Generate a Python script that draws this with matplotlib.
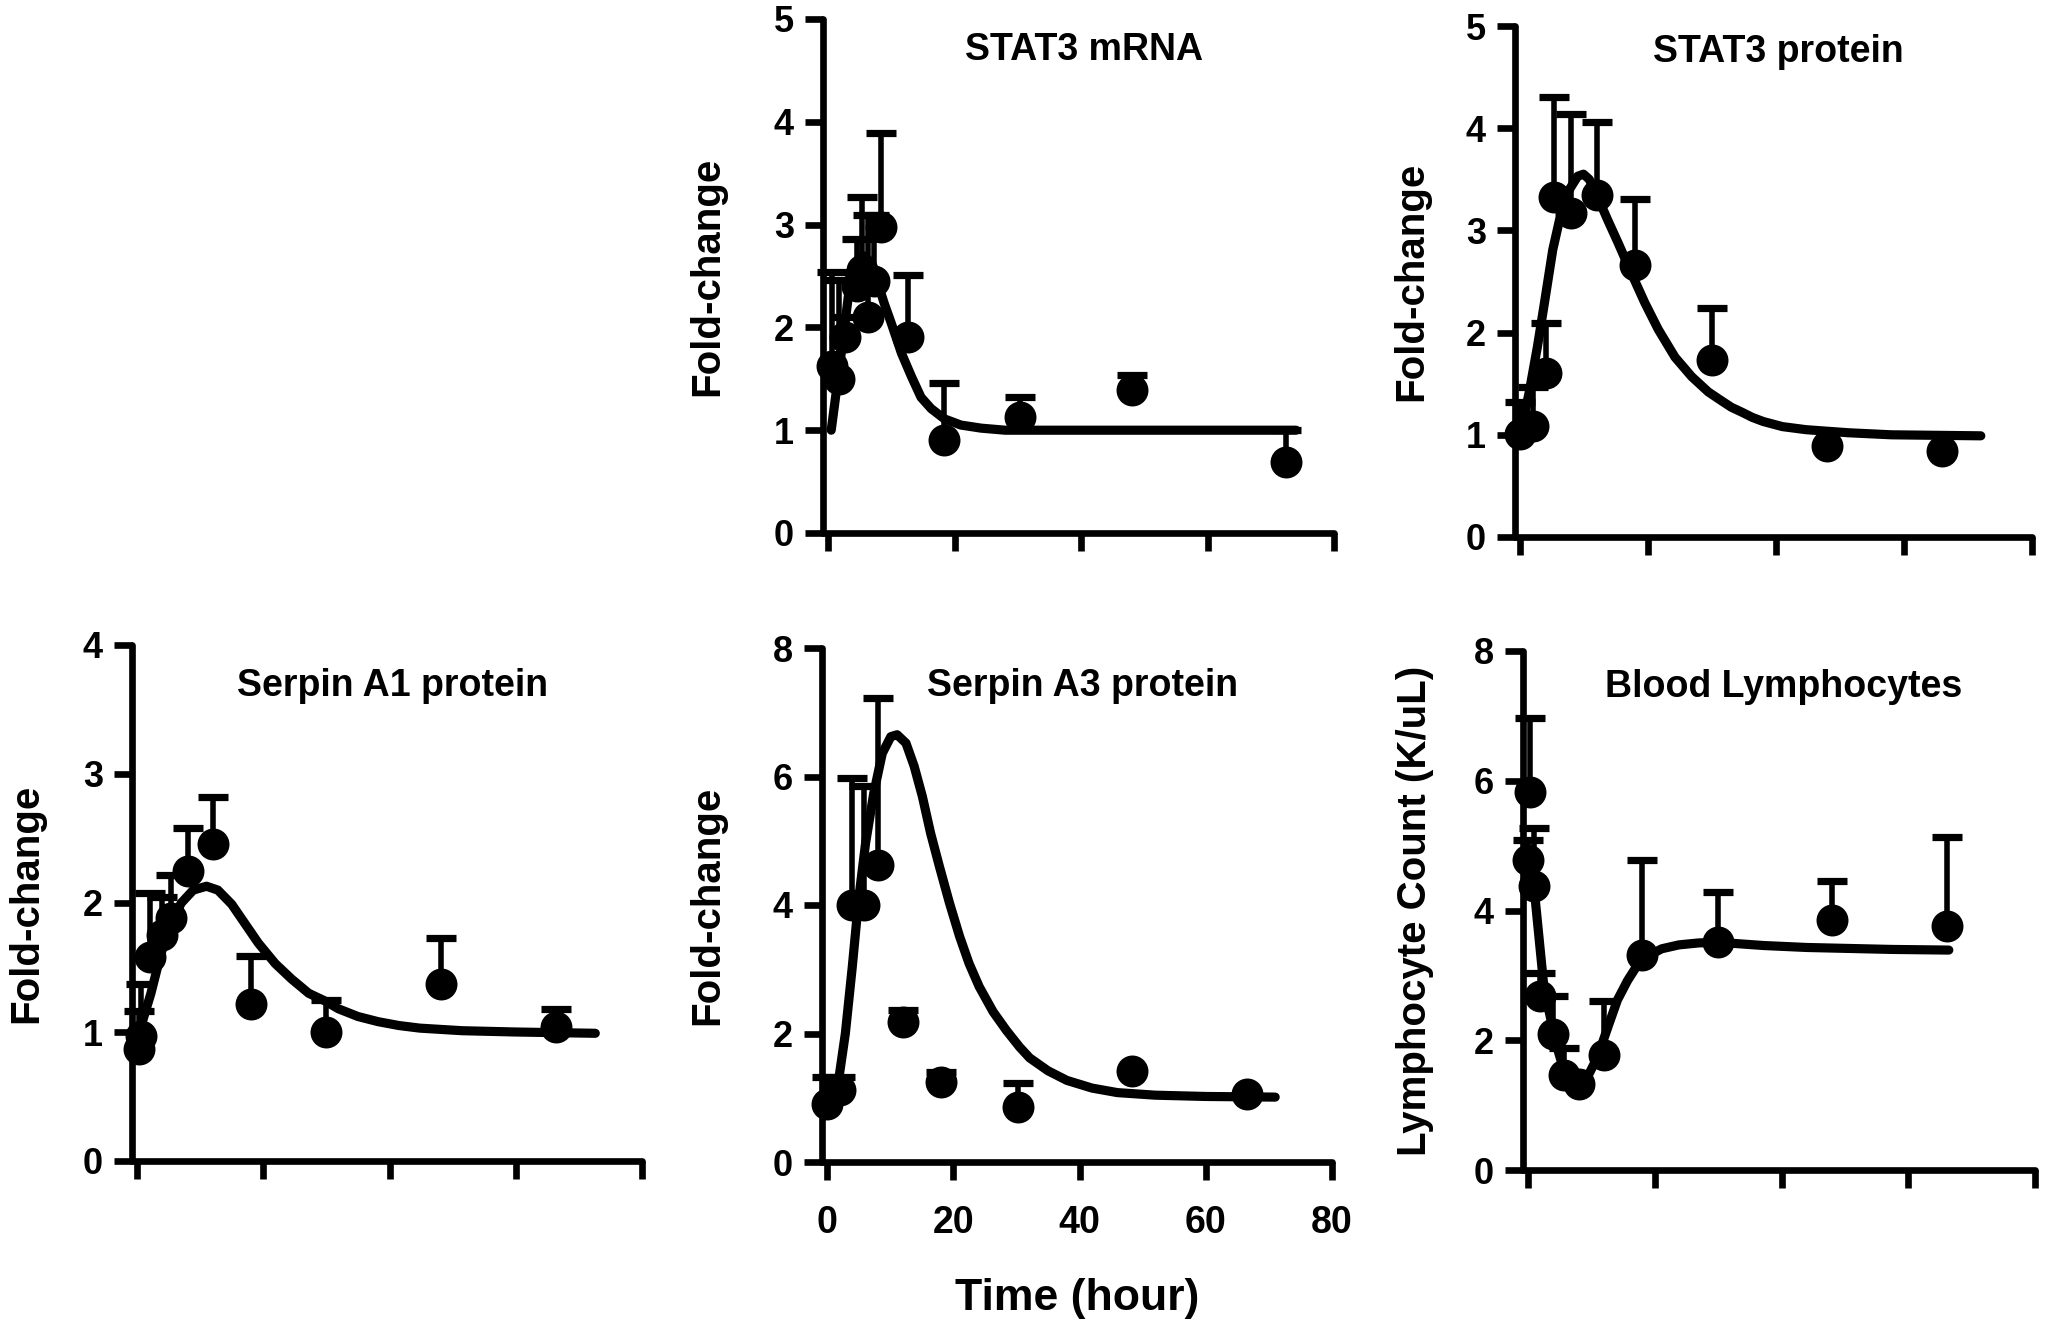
import matplotlib
matplotlib.use("Agg")
import matplotlib.pyplot as plt

plt.rcParams['font.family'] = ['Liberation Sans', 'DejaVu Sans']
plt.rcParams['font.weight'] = 'bold'

# ---------------- data ----------------
# STAT3 mRNA
mrna_t = [0.7, 1.8, 2.6, 4.5, 5.3, 6.3, 7.2, 8.4, 12.6, 18.4, 30.4, 48.0, 72.4]
mrna_mean = [1.62, 1.50, 1.91, 2.40, 2.56, 2.10, 2.45, 2.98, 1.91, 0.90, 1.13, 1.39, 0.69]
mrna_upper = [2.54, 2.46, 2.10, 2.86, 3.27, 3.09, 3.09, 3.89, 2.51, 1.46, 1.32, 1.54, 1.00]
mrna_fit_t = [0.5, 1.5, 2.5, 3.2, 4.5, 5.5, 6.5, 7.5, 8.9, 10.0, 11.6, 13.2, 14.7, 16.3,
              18.4, 21.0, 24.2, 28.0, 40.0, 60.0, 74.0]
mrna_fit_v = [1.0, 1.47, 1.95, 2.3, 2.6, 2.7, 2.65, 2.5, 2.23, 2.04, 1.75, 1.52, 1.32, 1.21,
              1.11, 1.05, 1.02, 1.0, 1.0, 1.0, 1.0]

# STAT3 protein
prot_t = [0, 2, 4, 5.3, 8, 12, 18, 30, 48, 66]
prot_mean = [1.01, 1.09, 1.60, 3.33, 3.17, 3.35, 2.66, 1.73, 0.89, 0.84]
prot_upper = [1.32, 1.47, 2.09, 4.31, 4.14, 4.06, 3.31, 2.24, 0.89, 0.84]
prot_fit_t = [0, 1.4, 2.7, 3.8, 5.1, 6.4, 7.7, 9.0, 9.9, 10.8, 12.1, 13.7, 15.3, 17.4, 19.5,
              21.6, 24.2, 26.8, 29.4, 31.3, 33.0, 34.7, 36.3, 38.0, 41.0, 44.7, 51.3, 58.0, 72.0]
prot_fit_v = [1.0, 1.41, 1.86, 2.29, 2.81, 3.17, 3.40, 3.53, 3.55, 3.50, 3.33, 3.10, 2.88, 2.58,
              2.29, 2.03, 1.76, 1.57, 1.42, 1.34, 1.27, 1.22, 1.17, 1.13, 1.08, 1.05, 1.02, 1.0, 0.99]

# Serpin A1 protein
a1_t = [0.3, 0.7, 2.0, 4.0, 5.4, 8.0, 12.0, 18.0, 30.0, 48.2, 66.3]
a1_mean = [0.87, 0.97, 1.58, 1.75, 1.88, 2.25, 2.46, 1.22, 1.00, 1.37, 1.04]
a1_upper = [1.16, 1.37, 2.08, 2.05, 2.22, 2.58, 2.82, 1.59, 1.25, 1.73, 1.18]
a1_fit_t = [0.3, 0.6, 2.2, 3.8, 5.4, 7.0, 8.9, 11.0, 12.8, 15.0, 17.1, 19.2, 21.9, 24.5,
            27.2, 29.8, 31.9, 35.0, 38.2, 41.5, 44.8, 51.5, 60.0, 72.6]
a1_fit_v = [0.99, 1.04, 1.30, 1.61, 1.84, 2.00, 2.10, 2.13, 2.10, 1.99, 1.84, 1.69, 1.53, 1.41,
            1.30, 1.24, 1.18, 1.12, 1.08, 1.05, 1.03, 1.01, 1.0, 0.99]

# Serpin A3 protein
a3_t = [0, 2.1, 4.0, 5.8, 8.1, 12.0, 18.0, 30.2, 48.3, 66.6]
a3_mean = [0.91, 1.12, 4.0, 4.0, 4.62, 2.18, 1.25, 0.86, 1.41, 1.06]
a3_upper = [1.32, 1.32, 5.97, 5.85, 7.22, 2.37, 1.40, 1.23, 1.41, 1.06]
a3_fit_t = [0, 1.0, 1.9, 2.9, 4.0, 5.0, 6.1, 7.4, 8.75, 10.1, 11.1, 12.5, 13.8, 15.1, 16.4,
            17.8, 19.4, 21.0, 22.5, 24.1, 26.3, 28.4, 30.5, 32.1, 35.0, 38.0, 42.0, 46.0,
            52.0, 60.0, 71.0]
a3_fit_v = [0.95, 1.05, 1.32, 2.0, 3.04, 4.08, 4.96, 5.74, 6.36, 6.62, 6.65, 6.52, 6.16, 5.69,
            5.12, 4.60, 4.03, 3.51, 3.09, 2.73, 2.34, 2.05, 1.79, 1.62, 1.42, 1.27, 1.15, 1.08,
            1.04, 1.02, 1.01]

# Blood lymphocytes
ly_t = [0, 0.3, 1.0, 1.9, 3.9, 5.6, 8.0, 12.0, 18.0, 30.0, 48.0, 66.1]
ly_mean = [4.78, 5.83, 4.37, 2.68, 2.09, 1.46, 1.33, 1.78, 3.31, 3.51, 3.85, 3.76]
ly_upper = [5.09, 6.96, 5.27, 3.03, 2.68, 1.88, 1.33, 2.61, 4.78, 4.28, 4.46, 5.14]
ly_fit_t = [0, 0.5, 1.0, 2.6, 3.4, 4.4, 5.5, 6.5, 8.1, 9.4, 10.7, 11.7, 12.8, 14.1, 15.7,
            17.2, 19.1, 21.1, 23.8, 26.9, 30.0, 37.2, 44.0, 57.4, 66.4]
ly_fit_v = [4.9, 4.7, 4.3, 2.72, 2.41, 1.95, 1.59, 1.38, 1.36, 1.44, 1.69, 1.95, 2.26, 2.62,
            2.92, 3.15, 3.31, 3.41, 3.47, 3.50, 3.51, 3.46, 3.43, 3.40, 3.39]

x_ticks = [0, 20, 40, 60, 80]
x_ticklabels = ['0', '20', '40', '60', '80']

# ---------------- figure ----------------
fig = plt.figure(figsize=(10.245, 6.64), dpi=200)
W, H = 2049, 1328


def make_ax(left, right, top, bottom):
    return fig.add_axes([left / W, (H - bottom) / H, (right - left) / W, (bottom - top) / H])


def panel(ax, t, mean, upper, ft, fv, ymax, ystep, title, ylabel, title_y, ylab_x,
          show_xlabels=False):
    lower = [0.0] * len(mean)
    up = [u - m for u, m in zip(upper, mean)]
    ax.plot(ft, fv, color='black', lw=3.3, solid_capstyle='round', solid_joinstyle='round',
            zorder=3, clip_on=False)
    ax.errorbar(t, mean, yerr=[lower, up], fmt='o', color='black', ms=10.5,
                elinewidth=2.0, capsize=5.5, capthick=2.6, zorder=4, clip_on=False)
    ax.set_xlim(-0.8, 80)
    ax.set_ylim(0, ymax)
    ax.set_yticks(list(range(0, ymax + 1, ystep)))
    ax.set_xticks(x_ticks)
    if show_xlabels:
        ax.set_xticklabels(x_ticklabels)
    else:
        ax.tick_params(axis='x', labelbottom=False)
    for s in ['top', 'right']:
        ax.spines[s].set_visible(False)
    for s in ['left', 'bottom']:
        ax.spines[s].set_linewidth(2.4)
        ax.spines[s].set_capstyle('round')
    ax.tick_params(axis='both', direction='out', width=2.4, length=6.5)
    ax.tick_params(axis='y', labelsize=13, pad=4)
    ax.tick_params(axis='x', labelsize=13.5, pad=9)
    for lab in ax.get_xticklabels() + ax.get_yticklabels():
        lab.set_fontweight('bold')
    ax.text(0.51, title_y, title, transform=ax.transAxes, ha='center', va='center',
            fontsize=13.5, fontweight='bold')
    ax.text(ylab_x, 0.5, ylabel, transform=ax.transAxes, ha='center', va='center',
            rotation=90, fontsize=14.5, fontweight='bold')


ax1 = make_ax(823, 1334, 19, 533)
panel(ax1, mrna_t, mrna_mean, mrna_upper, mrna_fit_t, mrna_fit_v, 5, 1,
      'STAT3 mRNA', 'Fold-change', 0.94, -0.227)

ax2 = make_ax(1515, 2032, 26, 537)
panel(ax2, prot_t, prot_mean, prot_upper, prot_fit_t, prot_fit_v, 5, 1,
      'STAT3 protein', 'Fold-change', 0.95, -0.201)

ax3 = make_ax(132, 642, 645, 1161)
panel(ax3, a1_t, a1_mean, a1_upper, a1_fit_t, a1_fit_v, 4, 1,
      'Serpin A1 protein', 'Fold-change', 0.92, -0.208)

ax4 = make_ax(822, 1332, 648, 1162)
panel(ax4, a3_t, a3_mean, a3_upper, a3_fit_t, a3_fit_v, 8, 2,
      'Serpin A3 protein', 'Fold-change', 0.926, -0.225, show_xlabels=True)
ax4.text(0.50, -0.265, 'Time (hour)', transform=ax4.transAxes, ha='center', va='center',
         fontsize=16, fontweight='bold')

ax5 = make_ax(1523, 2035, 651, 1170)
panel(ax5, ly_t, ly_mean, ly_upper, ly_fit_t, ly_fit_v, 8, 2,
      'Blood Lymphocytes', 'Lymphocyte Count (K/uL)', 0.93, -0.211)

fig.savefig('out.png', dpi=200, facecolor='white')
